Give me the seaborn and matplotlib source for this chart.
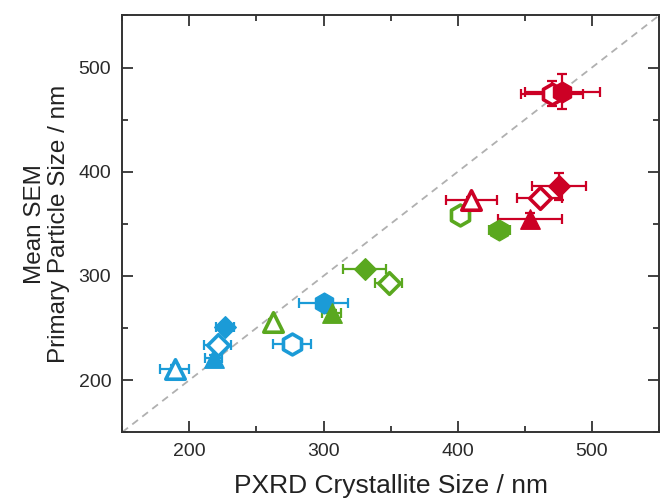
import numpy as np
import matplotlib
matplotlib.use("Agg")
import matplotlib.pyplot as plt
from matplotlib.ticker import MultipleLocator
import seaborn as sns

# marker order per group: open tri, filled tri, open diamond, filled diamond, open hex, filled hex
markers = ['^', '^', 'D', 'D', 'h', 'h']
filled = [False, True, False, True, False, True]

blue_x = [189, 218, 221, 226.5, 276.5, 300]
blue_y = [211, 221, 234, 250.5, 234.5, 273.5]
blue_xerr = [11, 6, 10, 7, 14, 18]
blue_yerr = [3, 3, 4, 4, 3, 5]

green_x = [262.5, 306, 348.4, 330.6, 401.5, 431]
green_y = [256, 264, 293.4, 307, 358, 344.5]
green_xerr = [0, 7, 10, 16, 0, 8]
green_yerr = [3, 3, 3, 3, 3, 3]

red_x = [410, 453.75, 461, 475.6, 470, 478]
red_y = [372.7, 354.5, 375, 386, 475, 477]
red_xerr = [19, 24, 16.5, 20, 23, 28]
red_yerr = [3, 6, 4, 13, 12, 17]

groups = [
    ('#1b9bd7', blue_x, blue_y, blue_xerr, blue_yerr),
    ('#5aa81f', green_x, green_y, green_xerr, green_yerr),
    ('#cc0025', red_x, red_y, red_xerr, red_yerr),
]

sizes = {'^': 14, 'D': 11, 'h': 15}

sns.set_theme(style="ticks")
plt.rcParams['font.family'] = ['Liberation Sans', 'DejaVu Sans']

fig = plt.figure(figsize=(6.61, 4.99), dpi=100)
ax = fig.add_axes([0.185, 0.134, 0.812, 0.835])

# parity line
diag = np.array([150, 550])
sns.lineplot(x=diag, y=diag, ax=ax, color='#b0b0b0', linestyle=(0, (4, 3)),
             linewidth=1.3, zorder=1)

for color, xs, ys, xe, ye in groups:
    ax.errorbar(xs, ys, xerr=xe, yerr=ye, fmt='none', ecolor=color,
                elinewidth=1.6, capsize=3.5, capthick=1.6, zorder=2)
    for x, y, m, f in zip(xs, ys, markers, filled):
        ms = sizes[m]
        sns.scatterplot(x=[x], y=[y], ax=ax, marker=m, s=ms ** 2,
                        color=color if f else 'white', edgecolor=color,
                        linewidth=2.6 if not f else 1.0, zorder=3, legend=False)

ax.set_xlim(150, 550)
ax.set_ylim(150, 550)
ax.xaxis.set_major_locator(MultipleLocator(100))
ax.xaxis.set_minor_locator(MultipleLocator(50))
ax.yaxis.set_major_locator(MultipleLocator(100))
ax.yaxis.set_minor_locator(MultipleLocator(50))
ax.tick_params(which='both', direction='in', top=True, right=True,
               width=1.3, color='#333333', labelsize=14, labelcolor='#2a2a2a')
ax.tick_params(which='major', length=8, pad=8)
ax.tick_params(which='minor', length=4.5)
for sp in ax.spines.values():
    sp.set_linewidth(1.4)
    sp.set_color('#333333')

ax.set_xlabel('PXRD Crystallite Size / nm', fontsize=19, color='#222222', labelpad=10)
ax.set_ylabel('Mean SEM\nPrimary Particle Size / nm', fontsize=17.5, color='#222222',
              labelpad=6, linespacing=1.1)

fig.savefig('out.png', dpi=100)
